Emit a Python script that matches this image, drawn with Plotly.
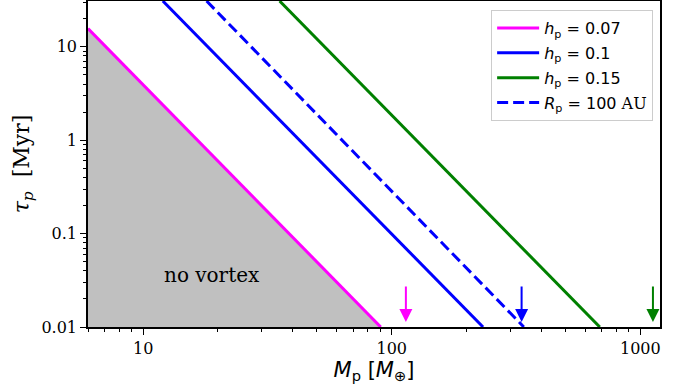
import numpy as np
import plotly.graph_objects as go

# Line endpoints (planet mass in Earth masses, lifetime in Myr)
mass_h007 = [6.0, 90.3]
tau_h007 = [15.7, 0.01]
mass_h01 = [12.0, 233.0]
tau_h01 = [31.0, 0.01]
mass_h015 = [35.4, 687.0]
tau_h015 = [31.0, 0.01]
mass_r100 = [18.0, 340.0]
tau_r100 = [31.0, 0.01]

# Arrow markers (masses) and their colours
arrow_masses = [114.0, 333.0, 1124.0]
arrow_colors = ["#ff00ff", "#0000ff", "#008000"]
arrow_tip_tau = 0.0113

x_ticks = [10, 100, 1000]
x_ticklabels = ["10", "100", "1000"]
y_ticks = [0.01, 0.1, 1, 10]
y_ticklabels = ["0.01", "0.1", "1", "10"]
x_minor = [6, 7, 8, 9, 20, 30, 40, 50, 60, 70, 80, 90,
           200, 300, 400, 500, 600, 700, 800, 900]
y_minor = [0.02, 0.03, 0.04, 0.05, 0.06, 0.07, 0.08, 0.09,
           0.2, 0.3, 0.4, 0.5, 0.6, 0.7, 0.8, 0.9,
           2, 3, 4, 5, 6, 7, 8, 9, 20, 30]

SERIF = "DejaVu Serif"
SANS = "DejaVu Sans"

fig = go.Figure()

# grey "no vortex" region under the magenta line
fig.add_trace(go.Scatter(
    x=[mass_h007[0], mass_h007[1], mass_h007[0]],
    y=[tau_h007[0], tau_h007[1], tau_h007[1]],
    fill="toself", fillcolor="#c0c0c0", line=dict(width=0),
    mode="lines", showlegend=False, hoverinfo="skip"))

fig.add_trace(go.Scatter(x=mass_h007, y=tau_h007, mode="lines", legendgroup="a",
                         line=dict(color="#ff00ff", width=3),
                         name="<i>h</i><sub>p</sub> = 0.07"))
fig.add_trace(go.Scatter(x=mass_h01, y=tau_h01, mode="lines", legendgroup="b",
                         line=dict(color="#0000ff", width=3),
                         name="<i>h</i><sub>p</sub> = 0.1"))
fig.add_trace(go.Scatter(x=mass_h015, y=tau_h015, mode="lines", legendgroup="c",
                         line=dict(color="#008000", width=3),
                         name="<i>h</i><sub>p</sub> = 0.15"))
fig.add_trace(go.Scatter(x=mass_r100, y=tau_r100, mode="lines", legendgroup="d",
                         line=dict(color="#0000ff", width=3, dash="11px,5px"),
                         name="<i>R</i><sub>p</sub> = 100 <span style='font-family:DejaVu Serif'>AU</span>"))

for m, c in zip(arrow_masses, arrow_colors):
    fig.add_annotation(x=np.log10(m), y=np.log10(arrow_tip_tau), xref="x", yref="y",
                       ax=0, ay=-37, showarrow=True, arrowhead=2, arrowsize=1.3,
                       arrowwidth=2, arrowcolor=c, text="")

fig.add_annotation(x=np.log10(18.9), y=np.log10(0.036), xref="x", yref="y",
                   text="no vortex", showarrow=False,
                   font=dict(family=SERIF, size=20, color="black"))

fig.update_xaxes(type="log", range=[np.log10(6.0), np.log10(1200)],
                 tickmode="array", tickvals=x_ticks, ticktext=x_ticklabels,
                 ticks="outside", ticklen=6, tickwidth=1.2, tickcolor="black",
                 minor=dict(tickmode="array", tickvals=x_minor, ticks="outside",
                            ticklen=3.5, tickwidth=1, tickcolor="black", showgrid=False),
                 showline=True, linecolor="black", linewidth=1.5, mirror=True,
                 showgrid=False, zeroline=False,
                 tickfont=dict(family=SERIF, size=16, color="black"),
                 title=dict(text="<i>M</i><sub>p</sub> [<i>M</i><sub>⊕</sub>]",
                            font=dict(family=SANS, size=21, color="black"), standoff=4))
fig.update_yaxes(type="log", range=[-2, np.log10(31)],
                 tickmode="array", tickvals=y_ticks, ticktext=y_ticklabels,
                 ticks="outside", ticklen=6, tickwidth=1.2, tickcolor="black",
                 minor=dict(tickmode="array", tickvals=y_minor, ticks="outside",
                            ticklen=3.5, tickwidth=1, tickcolor="black", showgrid=False),
                 showline=True, linecolor="black", linewidth=1.5, mirror=True,
                 showgrid=False, zeroline=False,
                 tickfont=dict(family=SERIF, size=16, color="black"),
                 title=dict(text="<i>τ</i><sub><i>p</i></sub>  [Myr]",
                            font=dict(family=SERIF, size=22, color="black"), standoff=6))

fig.update_layout(
    width=686, height=391,
    margin=dict(l=88, r=26, t=1, b=64, autoexpand=False),
    plot_bgcolor="white", paper_bgcolor="white",
    legend=dict(x=0.988, y=0.972, xanchor="right", yanchor="top",
                bgcolor="rgba(255,255,255,0.8)", bordercolor="#cccccc", borderwidth=1,
                font=dict(family=SANS, size=16, color="black"),
                tracegroupgap=1, itemwidth=42),
)

fig.write_html("out.html", config={"displayModeBar": False},
               post_script="document.body.style.margin='0px';")
